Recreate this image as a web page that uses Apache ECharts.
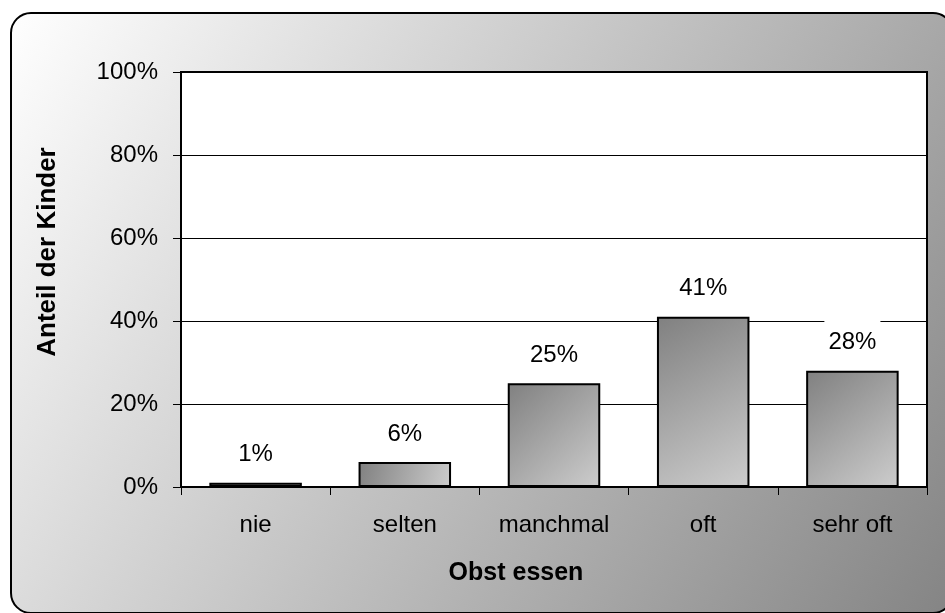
<!DOCTYPE html>
<html>
<head>
<meta charset="utf-8">
<script src="https://cdn.jsdelivr.net/npm/echarts@6/dist/echarts.min.js"></script>
<style>
  html, body { margin: 0; padding: 0; background: #ffffff; }
  #chart { width: 945px; height: 613px; }
</style>
</head>
<body>
<div id="chart"></div>
<script>
// Häufigkeit des Obstessens bei Kindern (Anteile in Prozent)
const categories = ['nie', 'selten', 'manchmal', 'oft', 'sehr oft'];
const shares = [1, 6, 25, 41, 28];
const yTicks = [0, 20, 40, 60, 80, 100];

const xTitle = 'Obst essen';
const yTitle = 'Anteil der Kinder';

const FONT = '"Liberation Sans", Arial, sans-serif';

const chart = echarts.init(document.getElementById('chart'), null, { renderer: 'canvas' });

const barFill = new echarts.graphic.LinearGradient(0, 0, 1, 1, [
  { offset: 0, color: '#808080' },
  { offset: 1, color: '#cdcdcd' }
]);

const panelFill = new echarts.graphic.LinearGradient(0, 0, 1, 1, [
  { offset: 0, color: '#ffffff' },
  { offset: 1, color: '#848484' }
]);

chart.setOption({
  animation: false,
  backgroundColor: '#ffffff',
  textStyle: { fontFamily: FONT },
  graphic: {
    z: -10,
    elements: [
      {
        type: 'rect',
        z: -10,
        shape: { x: 11, y: 13, width: 942, height: 600, r: 20 },
        style: { fill: panelFill, stroke: '#000000', lineWidth: 2 }
      },
      {
        type: 'text',
        x: 516, y: 573,
        style: {
          text: xTitle,
          font: 'bold 25px ' + FONT,
          fill: '#000000',
          textAlign: 'center',
          textVerticalAlign: 'middle'
        }
      },
      {
        type: 'text',
        x: 48, y: 252,
        rotation: Math.PI / 2,
        style: {
          text: yTitle,
          font: 'bold 26px ' + FONT,
          fill: '#000000',
          textAlign: 'center',
          textVerticalAlign: 'middle'
        }
      }
    ]
  },
  grid: {
    left: 181, right: 18, top: 72, bottom: 126,
    show: true,
    backgroundColor: '#ffffff',
    borderColor: '#000000',
    borderWidth: 2
  },
  xAxis: {
    type: 'category',
    data: categories,
    axisLine: { show: true, lineStyle: { color: '#000000', width: 2 } },
    axisTick: { show: true, inside: false, length: 8, alignWithLabel: false, lineStyle: { color: '#000000', width: 1 } },
    axisLabel: { color: '#000000', fontSize: 24, margin: 26, fontFamily: FONT },
    splitLine: { show: false }
  },
  yAxis: {
    type: 'value',
    min: yTicks[0],
    max: yTicks[yTicks.length - 1],
    interval: 20,
    axisLine: { show: true, lineStyle: { color: '#000000', width: 2 } },
    axisTick: { show: true, inside: false, length: 8, lineStyle: { color: '#000000', width: 1 } },
    axisLabel: { color: '#000000', fontSize: 24, margin: 23, fontFamily: FONT, formatter: '{value}%' },
    splitLine: { show: true, lineStyle: { color: '#000000', width: 1 } }
  },
  series: [{
    type: 'bar',
    data: shares,
    barWidth: '62%',
    itemStyle: { color: barFill, borderColor: '#000000', borderWidth: 2 },
    label: {
      show: true,
      position: 'top',
      distance: 14,
      formatter: '{c}%',
      color: '#000000',
      fontSize: 24,
      fontFamily: FONT,
      backgroundColor: '#ffffff',
      padding: [12, 4, 2, 4]
    }
  }]
});
</script>
</body>
</html>
